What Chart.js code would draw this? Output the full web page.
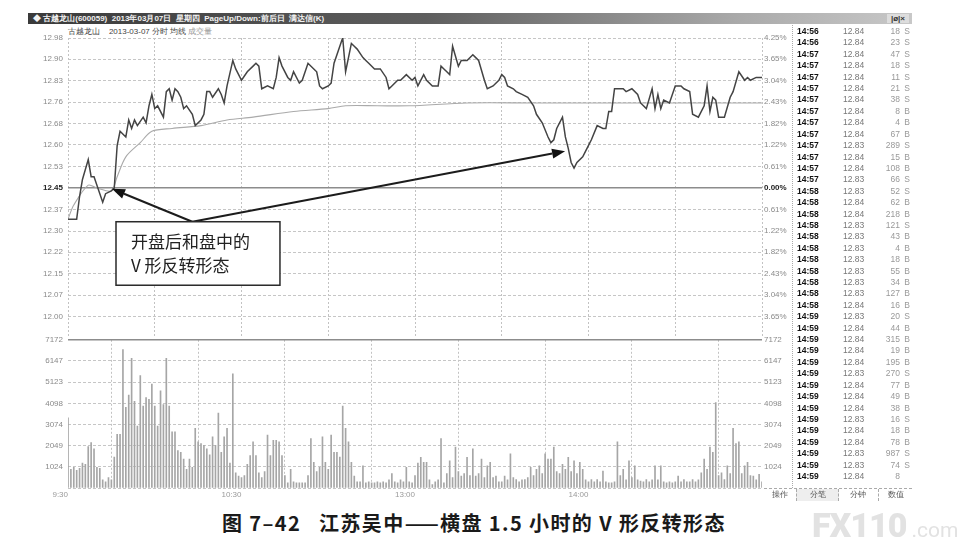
<!DOCTYPE html>
<html>
<head>
<meta charset="utf-8">
<script src="https://cdn.jsdelivr.net/npm/chart.js@4.4.0/dist/chart.umd.min.js"></script>
<style>
body { margin:0; width:974px; height:550px; background:#fff; position:relative; overflow:hidden;
       font-family:"Liberation Sans", Arial, sans-serif; }
canvas { position:absolute; left:0; }
#bar { position:absolute; left:28px; top:13px; width:884px; height:11px;
       background:linear-gradient(to right,#3a3a3a,#5e5e5e 45%,#a9a9a9 80%,#c8c8c8);
       color:#f2f2f2; font-size:8px; line-height:11px; font-weight:bold; white-space:nowrap; }
#bar span { margin-left:5px; }
#btns { position:absolute; right:3px; top:1px; height:9px; width:22px; background:#ddd; color:#333;
        font-size:8px; line-height:9px; text-align:center; }
#sub { position:absolute; left:68px; top:26px; font-size:8px; color:#444; white-space:nowrap; }
#sub .g { color:#999; }
#list { position:absolute; left:792px; top:25px; width:120px; height:463px; border-left:1px dotted #aaa; }
.row { position:absolute; left:0; width:120px; height:11px; font-size:8.5px; line-height:11px; }
.row .t { position:absolute; left:4px; font-weight:bold; color:#111; }
.row .p { position:absolute; left:50px; color:#777; }
.row .v { position:absolute; right:13px; color:#999; text-align:right; }
.row .s { position:absolute; right:3px; color:#999; }
#tabs { position:absolute; left:764px; top:488px; width:148px; height:12px; border-top:1px dashed #aaa;
        font-size:8px; line-height:12px; color:#555; }
#tabs div { position:absolute; top:0; height:12px; text-align:center; }
#cap { position:absolute; left:222px; top:508px; font-family:"Noto Sans CJK SC", sans-serif;
       font-weight:bold; font-size:20px; color:#1a1a1a; white-space:nowrap; letter-spacing:1.4px; }
#wm { position:absolute; left:812px; top:505px; font-family:Roboto, sans-serif; color:#e2e2e2;
      white-space:nowrap; }
#wm b { font-size:34px; font-weight:900; letter-spacing:-1px; }
#wm i { font-style:normal; font-size:21px; margin-left:5px; }
</style>
</head>
<body>
<div id="bar"><span>◆ 古越龙山(600059)&nbsp; 2013年03月07日&nbsp; 星期四&nbsp; PageUp/Down:前后日&nbsp; 满达信(K)</span><div id="btns">|ø|×</div></div>
<div id="sub">古越龙山&nbsp;&nbsp;&nbsp; 2013-03-07 分时 均线 <span class="g">成交量</span></div>
<canvas id="priceChart" width="795" height="346" style="top:0"></canvas>
<canvas id="volChart" width="795" height="172" style="top:330px"></canvas>
<div id="list"></div>
<div id="tabs">
  <div style="left:2px;width:28px;">操作</div>
  <div style="left:32px;width:41px;background:#eee;border-left:1px dashed #aaa;border-right:1px dashed #aaa;">分笔</div>
  <div style="left:74px;width:40px;border-right:1px dashed #aaa;">分钟</div>
  <div style="left:115px;width:33px;">数值</div>
</div>
<div id="cap">图 7–42&nbsp;&nbsp; 江苏吴中——横盘 1.5 小时的 V 形反转形态</div>
<div id="wm"><b>FX110</b><i>.com</i></div>

<script>
// intraday price, minute index from 9:30 (0..240, lunch break removed)
var priceMinutes = [0,3,4,5,7,8,9,12,13,15,
    16,17,18,20,21,22,23,24,26,27,
    28,29,30,31,33,34,35,36,37,38,
    39,40,41,43,44,46,47,48,49,50,
    52,53,54,55,57,58,60,62,64,65,
    66,67,69,71,72,73,74,76,77,78,
    80,81,83,85,86,87,88,90,91,92,
    93,95,96,98,99,100,102,103,104,106,
    108,110,111,112,114,115,117,119,120,121,
    123,124,126,128,129,130,131,132,133,135,
    136,138,140,141,142,144,145,147,149,150,
    151,152,154,155,157,159,161,162,164,166,
    167,168,169,171,172,173,174,175,176,178,
    179,181,183,185,186,187,188,189,192,193,
    195,197,198,200,202,203,204,205,206,208,
    210,212,213,215,216,218,220,221,222,223,
    224,225,227,229,230,232,234,235,236,238,
    240];
var priceValues = [12.34,12.34,12.42,12.48,12.55,12.49,12.49,12.40,12.43,12.44,
    12.45,12.60,12.65,12.63,12.69,12.66,12.69,12.67,12.70,12.68,
    12.74,12.78,12.73,12.74,12.70,12.79,12.80,12.76,12.80,12.79,
    12.77,12.73,12.74,12.71,12.67,12.69,12.71,12.79,12.79,12.77,
    12.80,12.78,12.75,12.81,12.90,12.87,12.83,12.86,12.88,12.89,
    12.88,12.80,12.81,12.80,12.84,12.91,12.88,12.84,12.83,12.86,
    12.82,12.83,12.89,12.87,12.86,12.81,12.80,12.81,12.82,12.89,
    12.92,12.98,12.86,12.96,12.95,12.94,12.91,12.90,12.89,12.87,
    12.87,12.84,12.80,12.81,12.83,12.83,12.85,12.83,12.84,12.81,
    12.85,12.83,12.81,12.81,12.88,12.87,12.86,12.85,12.95,12.88,
    12.90,12.90,12.92,12.91,12.90,12.83,12.80,12.81,12.83,12.85,
    12.84,12.81,12.80,12.79,12.78,12.77,12.74,12.71,12.68,12.63,
    12.61,12.62,12.66,12.70,12.63,12.59,12.54,12.52,12.54,12.56,
    12.58,12.62,12.67,12.66,12.66,12.72,12.72,12.80,12.80,12.79,
    12.80,12.78,12.75,12.73,12.80,12.73,12.78,12.73,12.76,12.75,
    12.81,12.81,12.80,12.79,12.71,12.70,12.74,12.81,12.72,12.77,
    12.76,12.70,12.70,12.77,12.79,12.86,12.83,12.84,12.83,12.84,
    12.84];

// average price line
var avgMinutes = [0,2,7,10,15,17,20,25,29,36,46,55,64,78,90,96,107,118,138,161,184,207,240];
var avgValues = [12.34,12.39,12.46,12.45,12.44,12.49,12.56,12.61,12.65,12.66,12.67,12.69,12.70,
    12.72,12.73,12.74,12.74,12.74,12.75,12.75,12.75,12.75,12.75];

// volume per minute (241 bars)
var volumes = [3400,900,1000,850,950,1200,1150,2000,2200,1900,
    1000,950,400,300,500,400,1500,2600,2600,6700,
    3900,4500,6270,4200,3000,5440,3960,4370,4290,5030,
    3960,3000,4700,4040,6270,3960,2720,2720,1815,1730,
    1400,900,1400,1000,2890,2230,2150,2060,1900,1600,
    2480,2060,3630,1730,2480,2890,1200,5530,740,580,
    500,600,1150,1570,2230,1570,740,500,800,2560,
    1570,2310,2310,2230,1570,600,250,900,300,250,
    250,250,250,600,2390,1240,800,1000,2480,1240,
    900,2560,1730,1730,1500,3960,2890,2230,1240,580,
    300,300,1070,250,300,250,250,300,250,300,
    250,400,700,300,250,400,300,1000,300,250,
    600,1200,1480,1240,1240,400,160,300,400,2390,
    250,700,1320,500,1980,800,580,700,1480,600,
    1900,580,700,1400,500,1070,1240,500,580,300,
    300,580,400,1650,500,410,300,400,410,500,
    1000,600,900,1070,700,1650,1400,1400,1980,800,
    700,1150,900,1480,800,1320,700,1240,900,400,
    300,410,300,410,300,820,300,250,250,300,
    2230,600,900,400,1320,500,1070,400,330,300,
    410,300,400,1070,400,1070,300,250,300,250,
    300,580,300,410,300,300,410,300,400,740,
    1400,900,1980,1730,4130,600,740,410,1070,700,
    2890,2150,2230,700,1070,1240,600,580,400,660,
    300];

var prevClose = 12.45;
var pctTicks = [4.25,3.65,3.04,2.43,1.82,1.22,0.61,0,-0.61,-1.22,-1.82,-2.43,-3.04,-3.65];
var priceTickLabels = ['12.98','12.90','12.83','12.76','12.68','12.60','12.53','12.45',
    '12.37','12.30','12.22','12.15','12.07','12.00'];
var volTicks = [7172,6147,5123,4098,3074,2049,1024,0];
var volTickLabels = ['7172','6147','5123','4098','3074','2049','1024',''];
var timeTickMinutes = [0,60,120,180];
var timeTickLabels = ['9:30','10:30','13:00','14:00'];

// 分笔 list
var tradeTimes = ['14:56','14:56','14:57','14:57','14:57','14:57','14:57','14:57','14:57','14:57',
    '14:57','14:57','14:57','14:57','14:58','14:58','14:58','14:58','14:58','14:58',
    '14:58','14:58','14:58','14:58','14:58','14:59','14:59','14:59','14:59','14:59',
    '14:59','14:59','14:59','14:59','14:59','14:59','14:59','14:59','14:59','14:59'];
var tradePrices = ['12.84','12.84','12.84','12.84','12.84','12.84','12.84','12.84','12.84','12.84',
    '12.83','12.84','12.84','12.83','12.83','12.84','12.84','12.83','12.83','12.83',
    '12.83','12.83','12.83','12.83','12.84','12.83','12.84','12.84','12.84','12.84',
    '12.83','12.84','12.84','12.84','12.83','12.84','12.84','12.83','12.83','12.84'];
var tradeVols = [18,23,47,18,11,21,38,8,4,67,
    289,15,108,66,52,62,218,121,43,4,
    18,55,34,127,16,20,44,315,19,195,
    270,77,49,38,16,18,78,987,74,8];
var tradeSides = ['S','S','S','S','S','S','S','B','B','B',
    'S','B','B','S','S','B','B','S','B','B',
    'B','B','B','B','B','S','B','B','B','B',
    'S','B','B','B','S','B','B','S','S',''];

// annotation (data coordinates)
var noteLines = ['开盘后和盘中的', 'V 形反转形态'];
var noteBox = { x0: 16.6, x1: 73.3, y0: 12.331, y1: 12.107 };
var arrowFrom = { x: 43, y: 12.331 };
var arrowTips = [{ x: 15.2, y: 12.447 }, { x: 171.9, y: 12.58 }];

Chart.defaults.font.family = '"Liberation Sans", Arial, sans-serif';
Chart.defaults.font.size = 8;
Chart.defaults.animation = false;

var priceTickValues = pctTicks.map(function (p) { return prevClose * (1 + p / 100); });
var pctTickLabels = pctTicks.map(function (p) { return Math.abs(p).toFixed(2) + '%'; });

function pts(xs, ys) {
    var out = [];
    for (var i = 0; i < xs.length; i++) out.push({ x: xs[i], y: ys[i] });
    return out;
}

var xGrid = {
    type: 'linear', min: 0, max: 240, offset: false,
    ticks: { stepSize: 30, display: false },
    grid: { color: '#c2c2c2', drawTicks: false, lineWidth: 1 },
    border: { display: false, dash: [2, 2] }
};

var noteLayer = {
    id: 'noteLayer',
    afterDatasetsDraw: function (chart) {
        var ctx = chart.ctx, xs = chart.scales.x, ys = chart.scales.y;
        var fx = xs.getPixelForValue(arrowFrom.x), fy = ys.getPixelForValue(arrowFrom.y);
        ctx.save();
        arrowTips.forEach(function (t) {
            var tx = xs.getPixelForValue(t.x), ty = ys.getPixelForValue(t.y);
            var a = Math.atan2(ty - fy, tx - fx);
            var hl = 13, hw = 5;
            var bx = tx - hl * Math.cos(a), by = ty - hl * Math.sin(a);
            ctx.strokeStyle = '#1c1c1c';
            ctx.lineWidth = 2;
            ctx.beginPath();
            ctx.moveTo(fx, fy);
            ctx.lineTo(bx, by);
            ctx.stroke();
            ctx.fillStyle = '#111';
            ctx.beginPath();
            ctx.moveTo(tx, ty);
            ctx.lineTo(bx + hw * Math.sin(a), by - hw * Math.cos(a));
            ctx.lineTo(bx - hw * Math.sin(a), by + hw * Math.cos(a));
            ctx.closePath();
            ctx.fill();
        });
        var l = xs.getPixelForValue(noteBox.x0), r = xs.getPixelForValue(noteBox.x1);
        var t = ys.getPixelForValue(noteBox.y0), b = ys.getPixelForValue(noteBox.y1);
        ctx.fillStyle = '#fff';
        ctx.fillRect(l, t, r - l, b - t);
        ctx.strokeStyle = '#2a2a2a';
        ctx.lineWidth = 1.5;
        ctx.strokeRect(l, t, r - l, b - t);
        ctx.fillStyle = '#222';
        ctx.font = '17px "Noto Sans CJK SC", sans-serif';
        ctx.textBaseline = 'middle';
        ctx.fillText(noteLines[0], l + 15, t + (b - t) * 0.31);
        ctx.fillText(noteLines[1], l + 15, t + (b - t) * 0.69);
        ctx.restore();
    }
};

var isBase = function (c) { return c.tick && Math.abs(c.tick.value - prevClose) < 1e-6; };

new Chart(document.getElementById('priceChart'), {
    type: 'line',
    data: {
        datasets: [
            { label: '价格', data: pts(priceMinutes, priceValues), borderColor: '#444',
              borderWidth: 1.5, pointRadius: 0, tension: 0, order: 1 },
            { label: '均价', data: pts(avgMinutes, avgValues), borderColor: '#aaa',
              borderWidth: 1.1, pointRadius: 0, tension: 0.3, order: 2 }
        ]
    },
    options: {
        responsive: false,
        layout: { padding: { top: 38, bottom: 8, left: 0, right: 0 } },
        plugins: { legend: { display: false }, tooltip: { enabled: false } },
        scales: {
            x: xGrid,
            y: {
                position: 'left', min: prevClose * (1 - 0.04199), max: prevClose * 1.0425,
                afterBuildTicks: function (s) { s.ticks = priceTickValues.map(function (v) { return { value: v }; }); },
                afterFit: function (s) { s.width = 68; },
                ticks: {
                    autoSkip: false, padding: 5,
                    callback: function (v, i) { return priceTickLabels[i]; },
                    color: function (c) { return isBase(c) ? '#222' : '#8a8a8a'; },
                    font: function (c) { return { size: 8, weight: isBase(c) ? 'bold' : 'normal' }; }
                },
                grid: {
                    drawTicks: false,
                    color: function (c) { return isBase(c) ? '#8c8c8c' : '#c6c6c6'; },
                    lineWidth: function (c) { return isBase(c) ? 1.6 : 1; }
                },
                border: { display: false, dash: function (c) { return isBase(c) ? [] : [3, 2]; } }
            },
            yR: {
                position: 'right', min: prevClose * (1 - 0.04199), max: prevClose * 1.0425,
                afterBuildTicks: function (s) { s.ticks = priceTickValues.map(function (v) { return { value: v }; }); },
                afterFit: function (s) { s.width = 33; },
                ticks: {
                    autoSkip: false, padding: 2,
                    callback: function (v, i) { return pctTickLabels[i]; },
                    color: function (c) { return isBase(c) ? '#222' : '#8a8a8a'; },
                    font: function (c) { return { size: 8, weight: isBase(c) ? 'bold' : 'normal' }; }
                },
                grid: { display: false, drawTicks: false },
                border: { display: false }
            }
        }
    },
    plugins: [noteLayer]
});

new Chart(document.getElementById('volChart'), {
    type: 'bar',
    data: {
        datasets: [{
            label: '成交量',
            data: volumes.map(function (v, i) { return { x: i, y: v }; }),
            backgroundColor: '#a6a6a6', barThickness: 1, borderWidth: 0
        }]
    },
    options: {
        responsive: false,
        layout: { padding: { top: 8, bottom: 2, left: 0, right: 0 } },
        plugins: { legend: { display: false }, tooltip: { enabled: false } },
        scales: {
            x: {
                type: 'linear', min: 0, max: 240, offset: false,
                afterFit: function (s) { s.height = 12; },
                ticks: {
                    stepSize: 30, autoSkip: false, maxRotation: 0, align: 'end', padding: 2,
                    color: '#9a9a9a',
                    callback: function (v) {
                        var k = timeTickMinutes.indexOf(v);
                        return k >= 0 ? timeTickLabels[k] : '';
                    }
                },
                grid: { color: '#c2c2c2', drawTicks: false },
                border: { display: false, dash: [2, 2] }
            },
            y: {
                position: 'left', min: 0, max: 7172,
                afterBuildTicks: function (s) { s.ticks = volTicks.map(function (v) { return { value: v }; }); },
                afterFit: function (s) { s.width = 68; },
                ticks: { autoSkip: false, padding: 5, color: '#8a8a8a',
                         callback: function (v, i) { return volTickLabels[i]; } },
                grid: {
                    drawTicks: false,
                    color: function (c) { return c.index === 0 ? '#8c8c8c' : '#c6c6c6'; },
                    lineWidth: function (c) { return c.index === 0 ? 1.5 : 1; }
                },
                border: { display: false, dash: function (c) { return c.index === 0 ? [] : [3, 2]; } }
            },
            yR: {
                position: 'right', min: 0, max: 7172,
                afterBuildTicks: function (s) { s.ticks = volTicks.map(function (v) { return { value: v }; }); },
                afterFit: function (s) { s.width = 33; },
                ticks: { autoSkip: false, padding: 2, color: '#8a8a8a',
                         callback: function (v, i) { return volTickLabels[i]; } },
                grid: { display: false, drawTicks: false },
                border: { display: false }
            }
        }
    }
});

// trade list
var list = document.getElementById('list');
for (var i = 0; i < tradeTimes.length; i++) {
    var row = document.createElement('div');
    row.className = 'row';
    row.style.top = (1 + i * 11.41) + 'px';
    row.innerHTML = '<span class="t">' + tradeTimes[i] + '</span><span class="p">' + tradePrices[i] +
        '</span><span class="v">' + tradeVols[i] + '</span><span class="s">' + tradeSides[i] + '</span>';
    list.appendChild(row);
}
</script>
</body>
</html>
